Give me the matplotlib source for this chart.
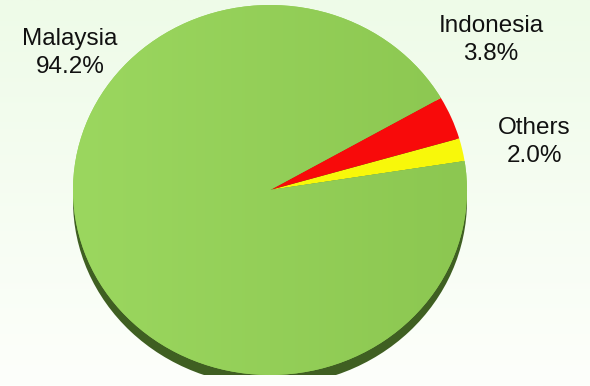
import matplotlib
matplotlib.use("Agg")
import matplotlib.pyplot as plt
import numpy as np
from matplotlib.patches import Ellipse
from matplotlib.colors import LinearSegmentedColormap

# ── Data ──────────────────────────────────────────────────────────────
countries = ["Others", "Indonesia", "Malaysia"]
shares = [2.0, 3.8, 94.2]
colors = ["#f8f80a", "#f80a0a", "#93cf58"]

W, H = 590, 386
fig = plt.figure(figsize=(W / 100, H / 100), dpi=100)

# background gradient
bg = fig.add_axes([0, 0, 1, 1])
grad = np.linspace(0, 1, 256).reshape(-1, 1)
cmap_bg = LinearSegmentedColormap.from_list("bg", ["#eefbe8", "#fdfffb"])
bg.imshow(grad, aspect="auto", cmap=cmap_bg, extent=[0, 1, 0, 1], origin="upper")
bg.set_xlim(0, 1)
bg.set_ylim(0, 1)
bg.axis("off")

# pie axes – elliptical top face
left, right, top, bottom = 73, 467, 5, 375
ax = fig.add_axes([left / W, 1 - bottom / H, (right - left) / W, (bottom - top) / H])

# 3D edge under the pie
ax.add_patch(Ellipse((0.0, -0.058), 2.0, 2.0, facecolor="#3f5f22",
                     edgecolor="none", zorder=0))

wedges, _ = ax.pie(shares, colors=colors, startangle=9, counterclock=True,
                   radius=1.0, wedgeprops=dict(linewidth=0, zorder=2))

# soft left-to-right shading on the big slice
cmap_pie = LinearSegmentedColormap.from_list("pie", ["#9bd75f", "#8cc751"])
shade = ax.imshow(np.linspace(0, 1, 256).reshape(1, -1), cmap=cmap_pie,
                  extent=[-1, 1, -1, 1], aspect="auto", zorder=2.5)
shade.set_clip_path(wedges[2])

ax.set_aspect("auto")
ax.set_xlim(-1, 1)
ax.set_ylim(-1, 1)
ax.axis("off")

# labels
font = dict(family="Liberation Sans", fontsize=17.5, color="#111111",
            ha="center", va="center", linespacing=1.4)
label_pos = {"Malaysia": (70, 53), "Indonesia": (491, 40), "Others": (534, 142)}
for name, val in zip(countries, shares):
    x, y = label_pos[name]
    fig.text(x / W, 1 - y / H, f"{name}\n{val:.1f}%", **font)

fig.savefig("out.png", dpi=100)
